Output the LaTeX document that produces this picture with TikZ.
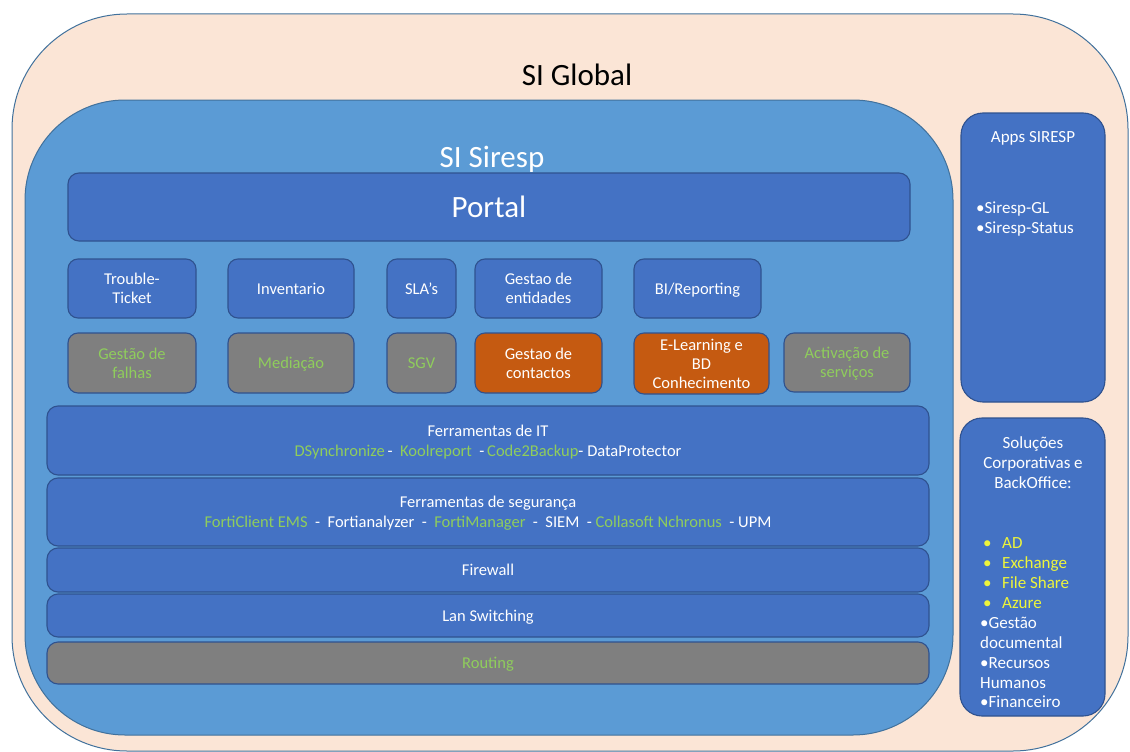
\documentclass[tikz,border=0pt]{standalone}
\usepackage{fontspec}
\setmainfont{Carlito}
\definecolor{peach}{HTML}{FBE5D6}
\definecolor{outl}{HTML}{41719C}
\definecolor{skyfill}{HTML}{5B9BD5}
\definecolor{boxblue}{HTML}{4472C4}
\definecolor{boxline}{HTML}{2F528F}
\definecolor{greybox}{HTML}{7F7F7F}
\definecolor{orangebox}{HTML}{C55A11}
\definecolor{greentxt}{HTML}{8FCD5C}
\definecolor{yellowtxt}{HTML}{EEF53A}
\newcommand{\gr}[1]{\textcolor{greentxt}{#1}}
\begin{document}
\begin{tikzpicture}[x=1pt,y=-1pt,
  wrap/.style={draw=outl, line width=1pt, inner sep=0pt},
  layer/.style={draw=boxline, line width=1.1pt, rounded corners=11pt, inner sep=0pt,
    fill=boxblue, text=white, align=center, text depth=0pt,
    font=\fontsize{16.5}{20}\selectfont},
  tile/.style={layer, rounded corners=10pt, font=\fontsize{16.5}{19}\selectfont},
  greytile/.style={tile, fill=greybox, text=greentxt},
  orangetile/.style={tile, fill=orangebox},
  sidebox/.style={layer, rounded corners=22pt},
  whitetxt/.style={text=white, inner sep=0pt, font=\fontsize{17}{20}\selectfont}]
\useasboundingbox (0,0) rectangle (1130,752);

% outer and inner containers
\node[wrap, fill=peach, rounded corners=115pt, minimum width=1116pt, minimum height=737pt] (global) at (570,382.5) {};
\node[anchor=base, inner sep=0pt, font=\fontsize{31}{37}\selectfont] (globaltitle) at (577,85.7) {SI Global};
\node[wrap, fill=skyfill, rounded corners=100pt, minimum width=928pt, minimum height=635pt] (siresp) at (489,417.5) {};
\node[anchor=base, inner sep=0pt, text=white, font=\fontsize{31}{37}\selectfont] (sirestitle) at (492,167) {SI Siresp};

% portal
\node[layer, minimum width=842pt, minimum height=68pt, font=\fontsize{31}{37}\selectfont] (portal) at (489,207) {Portal};

% first row of applications
\node[tile, minimum width=128pt, minimum height=59pt] (trouble) at (132,288.5) {Trouble-\\Ticket};
\node[tile, minimum width=126pt, minimum height=59pt] (invent) at (291,288.5) {Inventario};
\node[tile, minimum width=69pt, minimum height=59pt] (sla) at (421.5,288.5) {SLA’s};
\node[tile, minimum width=127pt, minimum height=59pt] (entid) at (538.5,288.5) {Gestao de\\entidades};
\node[tile, minimum width=127pt, minimum height=59pt] (bi) at (697.5,288.5) {BI/Reporting};

% second row of applications
\node[greytile, minimum width=128pt, minimum height=60pt] (falhas) at (132,363) {Gestão de\\falhas};
\node[greytile, minimum width=126pt, minimum height=60pt] (mediacao) at (291,363) {Mediação};
\node[greytile, minimum width=69pt, minimum height=60pt] (sgv) at (421.5,363) {SGV};
\node[orangetile, minimum width=127pt, minimum height=60pt] (contactos) at (538.5,363) {Gestao de\\contactos};
\node[orangetile, minimum width=135pt, minimum height=61pt] (elearn) at (701.5,363.5) {E-Learning e\\BD\\Conhecimento};
\node[greytile, minimum width=126pt, minimum height=59pt] (activ) at (847,362.5) {Activação de\\serviços};

% infrastructure layers
\node[layer, minimum width=882pt, minimum height=69pt] (ittools) at (488,440.5)
  {Ferramentas de IT\\\gr{DSynchronize}\,-\ \ \gr{Koolreport}\ \ -\,\gr{Code2Backup}- DataProtector};
\node[layer, minimum width=882pt, minimum height=68pt] (sectools) at (488,512)
  {Ferramentas de segurança\\\gr{FortiClient EMS}\ \ -\ \ Fortianalyzer\ \ -\ \ \gr{FortiManager}\ \ -\ \ SIEM\ \ -\ \gr{Collasoft Nchronus}\ \ - UPM};
\node[layer, minimum width=882pt, minimum height=44pt] (firewall) at (488,570) {Firewall};
\node[layer, minimum width=882pt, minimum height=43pt] (lan) at (488,615.5) {Lan Switching};
\node[layer, fill=greybox, text=greentxt, minimum width=882pt, minimum height=42pt] (routing) at (488,663) {Routing};

% side panels
\node[sidebox, minimum width=144pt, minimum height=289pt] (apps) at (1033,257.5) {};
\node[whitetxt, anchor=base] (appstitle) at (1033,142.5) {Apps SIRESP};
\node[whitetxt, anchor=north west, align=left] (appslist) at (976,202) {•Siresp-GL\\•Siresp-Status};

\node[sidebox, minimum width=145pt, minimum height=298pt] (corp) at (1032.5,567) {};
\node[whitetxt, align=center] (corptitle) at (1033,463) {Soluções\\Corporativas e\\BackOffice:};
\node[whitetxt, anchor=north west, align=left, font=\fontsize{17}{19.9}\selectfont] (corplist) at (980,537.6)
  {\textcolor{yellowtxt}{\makebox[22pt][l]{\,•}AD}\\
   \textcolor{yellowtxt}{\makebox[22pt][l]{\,•}Exchange}\\
   \textcolor{yellowtxt}{\makebox[22pt][l]{\,•}File Share}\\
   \textcolor{yellowtxt}{\makebox[22pt][l]{\,•}Azure}\\
   •Gestão\\documental\\•Recursos\\Humanos\\•Financeiro};
\end{tikzpicture}
\end{document}
